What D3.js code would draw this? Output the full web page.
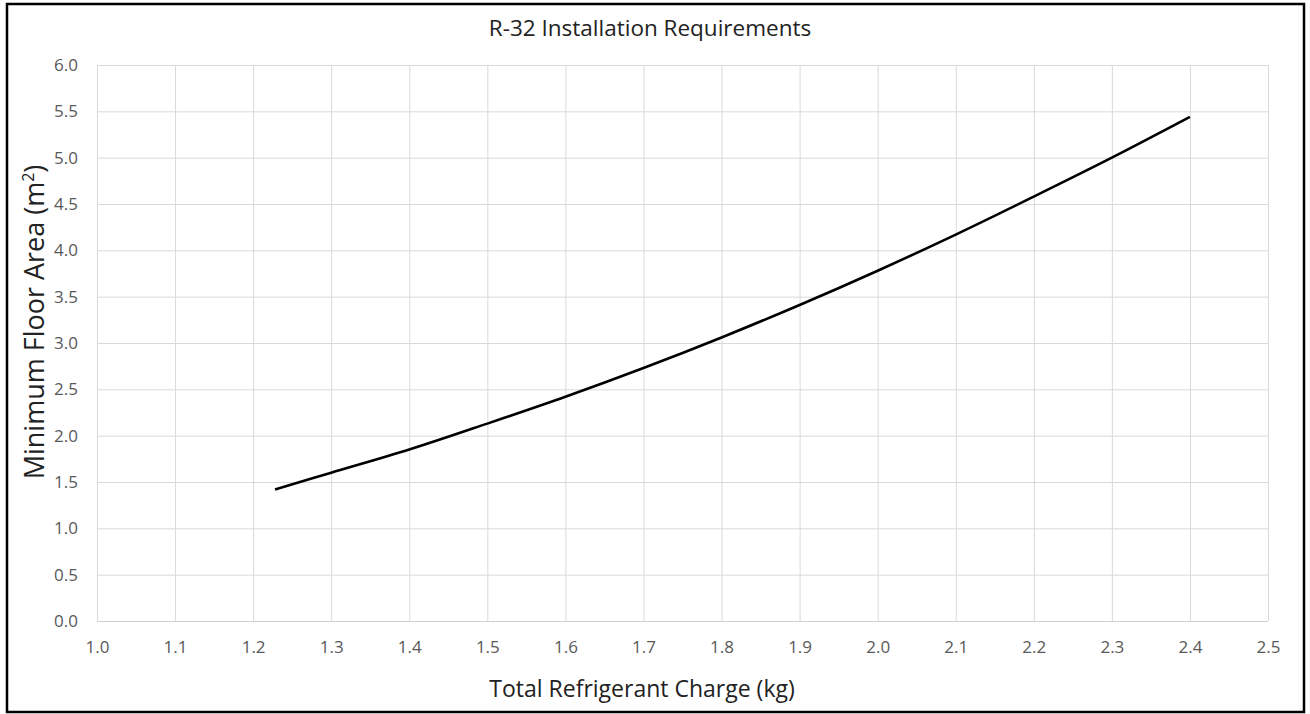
<!DOCTYPE html>
<html><head><meta charset="utf-8">
<script src="https://cdn.jsdelivr.net/npm/d3@7"></script>
<style>body{margin:0;background:#fff;} text{font-family:"Open Sans","Noto Sans",sans-serif;}</style>
</head><body>
<svg id="chart" width="1310" height="714"></svg>
<script>
const chargeKg = [1.228, 1.3, 1.4, 1.5, 1.6, 1.7, 1.8, 1.9, 2.0, 2.1, 2.2, 2.3, 2.4];
const minAreaM2 = [1.42, 1.60, 1.85, 2.13, 2.42, 2.73, 3.06, 3.41, 3.78, 4.17, 4.58, 5.00, 5.44];
const xTicks = [1.0,1.1,1.2,1.3,1.4,1.5,1.6,1.7,1.8,1.9,2.0,2.1,2.2,2.3,2.4,2.5];
const yTicks = [0,0.5,1.0,1.5,2.0,2.5,3.0,3.5,4.0,4.5,5.0,5.5,6.0];
const titleText = "R-32 Installation Requirements";
const xTitle = "Total Refrigerant Charge (kg)";

const svg = d3.select("#chart");
const L = 97, R = 1268, T = 65, B = 621;
const x = d3.scaleLinear().domain([1.0, 2.5]).range([L, R]);
const y = d3.scaleLinear().domain([0, 6]).range([B, T]);

svg.append("rect").attr("x",7).attr("y",4).attr("width",1297).attr("height",708)
  .attr("fill","#fff").attr("stroke","#000").attr("stroke-width",2.5);

const gx = svg.append("g").attr("transform",`translate(0,${B})`)
  .call(d3.axisBottom(x).tickValues(xTicks).tickSize(-(B-T)).tickFormat(d3.format(".1f")).tickPadding(20));
gx.select(".domain").remove();
gx.selectAll("line").attr("stroke","#d9d9d9").attr("stroke-width",1);
gx.selectAll("text").attr("fill","#595959").style("font-size","17px");

const gy = svg.append("g").attr("transform",`translate(${L},0)`)
  .call(d3.axisLeft(y).tickValues(yTicks).tickSize(-(R-L)).tickFormat(d3.format(".1f")).tickPadding(19));
gy.select(".domain").remove();
gy.selectAll("line").attr("stroke","#d9d9d9").attr("stroke-width",1);
gy.selectAll("text").attr("fill","#595959").style("font-size","17px");

svg.append("line").attr("x1",L).attr("x2",R).attr("y1",B+0.5).attr("y2",B+0.5).attr("stroke","#d0d0d0").attr("stroke-width",1);

const line = d3.line().x((d,i)=>x(chargeKg[i])).y(d=>y(d)).curve(d3.curveCatmullRom);
svg.append("path").datum(minAreaM2).attr("d",line).attr("fill","none").attr("stroke","#000").attr("stroke-width",2.6);

svg.append("text").attr("x",650).attr("y",36).attr("text-anchor","middle").attr("fill","#222")
  .style("font-size","22.5px").text(titleText);
svg.append("text").attr("x",642).attr("y",697).attr("text-anchor","middle").attr("fill","#222")
  .style("font-size","23px").text(xTitle);
const yt = svg.append("text").attr("transform",`translate(44,322) rotate(-90)`).attr("text-anchor","middle")
  .attr("fill","#222").style("font-size","27px");
yt.append("tspan").text("Minimum Floor Area (m");
yt.append("tspan").attr("dy",-10).style("font-size","16px").text("2");
yt.append("tspan").attr("dy",10).text(")");
</script>
</body></html>
